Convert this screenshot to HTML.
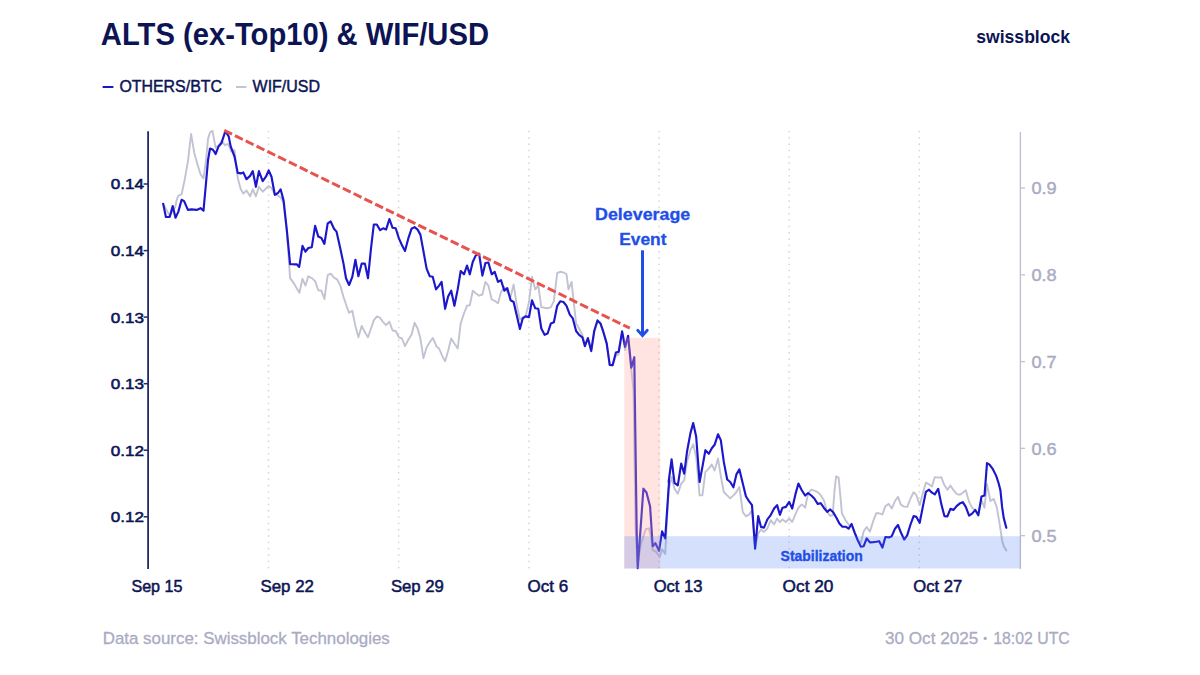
<!DOCTYPE html>
<html><head><meta charset="utf-8"><title>chart</title>
<style>
html,body{margin:0;padding:0;background:#fff;}
body{width:1200px;height:675px;position:relative;overflow:hidden;font-family:"Liberation Sans",sans-serif;}
</style></head><body>
<svg width="1200" height="675" viewBox="0 0 1200 675" font-family="'Liberation Sans', sans-serif" style="position:absolute;left:0;top:0">
<line x1="268.5" y1="131.6" x2="268.5" y2="569" stroke="#d8d8de" stroke-width="1.8" stroke-linecap="round" stroke-dasharray="0 6.319" />
<line x1="398.7" y1="131.6" x2="398.7" y2="569" stroke="#d8d8de" stroke-width="1.8" stroke-linecap="round" stroke-dasharray="0 6.319" />
<line x1="529" y1="131.6" x2="529" y2="569" stroke="#d8d8de" stroke-width="1.8" stroke-linecap="round" stroke-dasharray="0 6.319" />
<line x1="659" y1="131.6" x2="659" y2="569" stroke="#d8d8de" stroke-width="1.8" stroke-linecap="round" stroke-dasharray="0 6.319" />
<line x1="789.2" y1="131.6" x2="789.2" y2="569" stroke="#d8d8de" stroke-width="1.8" stroke-linecap="round" stroke-dasharray="0 6.319" />
<line x1="919.3" y1="131.6" x2="919.3" y2="569" stroke="#d8d8de" stroke-width="1.8" stroke-linecap="round" stroke-dasharray="0 6.319" />
<line x1="148.1" y1="131.3" x2="148.1" y2="569" stroke="#232a68" stroke-width="1.8"/>
<line x1="1020.4" y1="132" x2="1020.4" y2="569" stroke="#bdbfcf" stroke-width="1.3"/>
<line x1="143.6" y1="184.0" x2="148" y2="184.0" stroke="#232a68" stroke-width="1.5"/>
<line x1="143.6" y1="250.6" x2="148" y2="250.6" stroke="#232a68" stroke-width="1.5"/>
<line x1="143.6" y1="317.1" x2="148" y2="317.1" stroke="#232a68" stroke-width="1.5"/>
<line x1="143.6" y1="383.7" x2="148" y2="383.7" stroke="#232a68" stroke-width="1.5"/>
<line x1="143.6" y1="450.2" x2="148" y2="450.2" stroke="#232a68" stroke-width="1.5"/>
<line x1="143.6" y1="516.8" x2="148" y2="516.8" stroke="#232a68" stroke-width="1.5"/>
<line x1="1020.4" y1="188" x2="1025" y2="188" stroke="#bdbfcf" stroke-width="1.2"/>
<line x1="1020.4" y1="274.9" x2="1025" y2="274.9" stroke="#bdbfcf" stroke-width="1.2"/>
<line x1="1020.4" y1="361.6" x2="1025" y2="361.6" stroke="#bdbfcf" stroke-width="1.2"/>
<line x1="1020.4" y1="448.3" x2="1025" y2="448.3" stroke="#bdbfcf" stroke-width="1.2"/>
<line x1="1020.4" y1="535.7" x2="1025" y2="535.7" stroke="#bdbfcf" stroke-width="1.2"/>
<path d="M163.2,203.9 L169.7,215.7 L175.3,206.9 L176.5,200.6 L178.3,195.6 L181.6,194.3 L184.8,179.2 L187.9,161.6 L191.1,133.9 L194.2,152.7 L197.4,164.1 L200.5,174.2 L203.5,178.4 L206.0,160.3 L208.0,138.9 L210.0,132.6 L212.5,130.8 L215.6,147.7 L218.6,145.2 L221.9,141.4 L224.9,145.2 L228.2,143.9 L231.2,151.5 L234.5,150.2 L237.7,177.9 L240.8,189.3 L243.3,193.6 L246.5,190.5 L250.1,196.3 L252.8,189.3 L255.9,196.3 L258.9,186.8 L262.7,191.8 L265.9,188.5 L268.7,186.0 L271.5,188.0 L274.8,194.3 L278.0,195.6 L281.1,198.1 L283.6,203.1 L286.9,232.1 L290.1,278.1 L293.7,283.1 L296.7,288.2 L299.4,292.7 L302.5,278.8 L305.5,285.6 L308.3,276.3 L311.8,278.1 L315.1,281.1 L318.3,290.2 L321.4,290.7 L324.4,299.0 L327.7,275.1 L330.7,273.6 L334.0,277.6 L337.0,279.3 L340.3,285.6 L343.5,297.0 L346.5,305.8 L349.1,312.8 L352.3,310.8 L355.4,325.9 L358.4,337.3 L361.7,325.9 L364.9,332.2 L368.0,337.3 L371.0,328.5 L373.8,320.4 L376.8,316.4 L380.1,317.9 L383.1,322.2 L386.1,325.2 L389.4,321.7 L392.6,330.5 L395.7,331.0 L398.9,337.3 L402.0,338.5 L405.0,346.1 L408.3,339.8 L411.5,334.8 L414.6,322.7 L417.6,328.5 L420.4,338.5 L423.4,358.2 L426.6,347.4 L429.7,342.3 L432.7,338.0 L436.0,344.8 L436.0,346.1 L439.1,348.6 L442.1,355.7 L445.1,361.2 L448.1,351.1 L451.2,338.5 L454.4,343.6 L457.7,348.6 L460.7,323.4 L464.0,313.4 L467.0,305.8 L469.8,305.3 L472.8,290.7 L475.8,293.2 L479.1,295.7 L482.4,294.5 L485.4,281.9 L488.4,285.6 L491.7,299.5 L494.7,300.8 L498.0,303.3 L501.0,291.9 L504.3,286.9 L507.3,291.9 L510.6,297.0 L513.6,284.4 L516.9,305.8 L519.9,319.6 L522.7,317.1 L525.7,315.9 L529.0,302.0 L532.0,276.8 L535.3,289.4 L538.3,285.6 L541.3,307.1 L544.6,307.8 L547.6,308.3 L550.9,307.1 L553.9,300.8 L557.2,273.0 L560.2,271.8 L563.5,272.5 L566.5,274.3 L568.5,289.4 L571.6,281.9 L573.6,300.8 L576.1,323.4 L579.1,328.5 L582.4,334.8 L584.9,344.8 L587.9,338.5 L591.2,350.6 L594.2,332.2 L597.5,320.9 L600.5,323.9 L603.3,332.1 L606.7,343.8 L609.7,364.9 L612.6,365.5 L615.9,356.0 L618.7,354.3 L622.1,332.1 L625.1,350.1 L628.1,336.7 L631.3,370.2 L633.5,390.3 L635.6,529.1 L637.7,563.3 L641.1,543.1 L645.8,529.1 L648.9,528.3 L651.2,538.4 L652.7,550.1 L655.9,551.6 L659.7,557.0 L662.1,549.3 L665.2,553.9 L668.6,490.3 L671.6,476.9 L674.5,488.7 L677.8,493.7 L681.2,483.6 L684.2,480.3 L687.0,461.9 L690.4,450.2 L693.2,444.3 L696.2,456.9 L699.6,495.4 L702.4,495.4 L705.4,471.9 L708.8,468.6 L711.8,464.4 L714.6,470.6 L718.0,458.5 L720.8,476.1 L723.8,492.0 L727.2,495.4 L730.2,498.4 L733.4,495.4 L736.4,492.0 L739.4,487.0 L742.8,512.1 L745.9,516.3 L749.0,514.6 L752.0,510.4 L755.1,546.9 L758.2,533.6 L761.0,529.4 L764.0,531.9 L767.4,528.5 L770.7,520.2 L774.1,524.4 L777.1,518.5 L779.9,522.2 L782.5,519.5 L785.9,522.0 L789.2,518.6 L792.2,522.0 L795.4,514.4 L798.4,507.7 L801.8,504.4 L805.1,507.7 L808.1,493.5 L811.3,489.7 L814.3,490.7 L817.7,492.2 L820.7,495.2 L823.8,500.2 L827.2,511.9 L830.2,515.8 L832.7,515.3 L834.4,491.8 L836.1,476.4 L838.6,477.6 L840.3,495.2 L841.9,513.3 L845.6,520.3 L848.6,524.5 L851.6,525.3 L854.8,533.7 L857.8,540.4 L860.8,542.9 L863.7,531.2 L866.7,527.0 L869.9,531.7 L873.2,521.1 L876.2,513.3 L879.2,513.3 L882.4,514.4 L885.4,506.1 L888.8,503.9 L891.8,508.6 L895.0,501.0 L898.0,496.9 L901.0,504.9 L904.2,506.6 L907.2,506.9 L910.5,498.5 L913.6,492.2 L916.4,495.2 L919.7,505.2 L922.8,493.2 L925.9,482.6 L929.0,484.3 L932.0,486.5 L934.8,477.1 L938.2,477.6 L941.2,477.1 L944.4,485.1 L947.4,489.8 L950.4,485.6 L953.6,490.2 L956.6,493.8 L959.6,494.9 L962.8,492.7 L965.8,490.2 L969.1,501.9 L972.1,507.7 L975.3,510.3 L978.3,513.6 L981.5,500.2 L984.5,507.7 L987.0,484.3 L990.4,501.0 L993.7,498.9 L996.7,506.9 L999.6,523.6 L1002.1,540.4 L1003.8,546.2 L1006.3,550.4" fill="none" stroke="#c2c3d2" stroke-width="1.9" stroke-linejoin="round" stroke-linecap="round"/>
<path d="M163.2,203.9 L165.9,217.0 L169.7,217.0 L172.7,206.1 L175.5,217.7 L178.3,211.9 L181.6,199.8 L184.1,201.1 L187.9,209.9 L191.6,209.4 L196.7,209.9 L200.5,208.2 L203.5,210.7 L206.0,183.0 L208.0,160.3 L210.0,148.5 L213.0,149.7 L215.6,154.0 L218.6,146.4 L221.4,143.2 L224.9,132.6 L226.4,132.6 L228.7,136.4 L230.7,146.4 L234.5,156.5 L237.7,172.9 L240.8,173.4 L243.3,172.4 L246.5,179.2 L250.1,175.9 L252.8,171.1 L255.9,186.8 L258.9,171.1 L262.7,181.2 L265.9,176.7 L268.7,170.4 L271.5,176.7 L274.8,194.8 L278.0,193.0 L280.6,189.3 L283.6,200.6 L286.9,230.8 L290.1,264.1 L293.7,264.3 L296.7,264.3 L299.2,266.9 L302.5,245.9 L305.5,251.7 L308.3,248.0 L311.8,247.2 L315.1,225.8 L318.3,236.6 L321.4,237.9 L324.4,243.9 L327.7,223.3 L330.7,221.5 L334.0,228.8 L336.5,231.6 L340.3,248.5 L343.5,263.6 L346.0,278.2 L349.1,285.0 L352.3,276.9 L355.4,259.8 L358.4,276.2 L361.7,263.6 L364.9,263.6 L368.0,278.2 L371.0,248.5 L373.8,224.5 L376.8,224.5 L380.1,230.1 L383.1,228.3 L386.1,229.6 L389.4,219.0 L392.6,227.8 L395.7,228.3 L398.9,238.4 L402.0,245.2 L405.0,251.0 L408.3,238.4 L411.5,228.8 L414.6,227.1 L417.6,229.6 L420.4,234.6 L423.4,251.0 L426.6,268.6 L429.7,276.2 L432.7,276.7 L436.0,289.3 L436.0,289.4 L439.1,285.6 L441.6,281.9 L445.1,308.8 L448.1,296.5 L451.2,290.7 L454.4,305.8 L457.7,289.4 L460.7,271.0 L464.0,274.3 L467.0,265.5 L469.8,274.3 L472.8,261.7 L475.8,255.4 L479.1,253.7 L482.4,275.6 L485.4,263.0 L488.4,262.5 L491.7,274.3 L494.7,271.8 L498.0,281.9 L501.0,280.1 L504.3,290.7 L507.3,288.2 L510.6,300.3 L513.6,302.0 L516.9,315.9 L519.9,329.0 L522.7,318.4 L525.7,316.4 L529.0,317.1 L532.0,300.3 L535.3,308.3 L538.3,308.8 L541.3,328.5 L544.6,334.8 L547.6,333.5 L550.9,323.4 L553.9,322.2 L557.2,305.8 L560.2,301.3 L563.5,302.0 L566.5,305.8 L569.8,314.6 L572.8,318.4 L576.1,331.0 L579.1,334.8 L582.4,337.3 L584.9,346.1 L587.9,338.0 L591.2,351.1 L594.2,331.0 L597.5,320.4 L600.5,323.4 L603.3,331.7 L606.7,343.4 L609.7,364.9 L612.6,365.2 L615.9,352.6 L618.7,351.8 L622.1,331.4 L625.1,346.8 L628.1,335.9 L631.3,367.7 L634.3,357.2 L636.7,532.2 L637.7,568.2 L641.1,521.3 L643.4,488.7 L646.5,492.5 L650.1,506.5 L652.7,546.2 L655.4,543.1 L659.0,550.8 L662.1,531.4 L665.2,538.4 L669.1,480.9 L668.6,482.0 L671.6,459.4 L674.5,482.8 L677.8,485.3 L681.2,463.6 L684.2,473.6 L687.0,451.8 L690.4,433.4 L693.2,423.1 L696.2,436.8 L699.6,482.0 L702.4,466.9 L705.4,450.2 L708.8,453.8 L711.8,448.2 L714.6,444.8 L718.0,434.3 L720.8,440.1 L723.8,461.9 L727.2,479.5 L730.2,482.0 L733.4,487.3 L736.4,474.4 L739.4,469.4 L742.8,483.6 L745.9,496.2 L749.0,501.2 L752.0,505.1 L755.1,548.6 L758.2,516.0 L761.0,526.9 L764.0,527.7 L767.4,519.3 L770.7,515.1 L774.1,508.5 L777.1,505.1 L779.9,514.8 L782.5,507.7 L785.9,506.9 L789.2,501.9 L792.2,508.6 L795.4,494.4 L798.4,483.5 L801.8,490.2 L805.1,495.5 L808.1,493.2 L811.3,495.5 L814.3,498.5 L817.7,503.9 L820.7,503.2 L823.8,507.7 L827.2,511.9 L830.2,509.4 L833.2,512.3 L836.4,517.8 L839.4,523.6 L842.4,526.7 L845.6,526.7 L848.6,528.7 L851.6,524.0 L854.8,532.8 L857.8,540.4 L860.8,546.6 L863.7,546.2 L866.7,538.4 L869.9,542.4 L873.2,542.1 L876.2,541.7 L879.2,541.2 L882.4,547.6 L885.4,537.0 L888.8,537.4 L891.8,536.2 L895.0,528.7 L898.0,525.0 L901.0,532.8 L904.2,539.5 L907.2,535.4 L910.5,524.5 L913.6,516.1 L916.4,516.9 L919.7,522.8 L922.8,506.9 L925.9,491.8 L929.0,489.7 L932.0,492.7 L934.8,494.4 L938.2,488.8 L941.2,503.6 L944.4,516.1 L947.4,516.4 L950.4,508.9 L953.6,509.9 L956.6,506.1 L959.6,503.6 L962.8,502.2 L965.8,506.9 L969.1,515.6 L972.1,513.6 L975.3,509.9 L978.3,515.3 L981.5,496.5 L984.5,495.5 L987.0,463.1 L989.5,464.7 L992.9,469.2 L996.2,475.9 L998.7,483.5 L1000.4,490.2 L1002.1,506.9 L1003.8,518.3 L1006.3,527.8" fill="none" stroke="#1c17cb" stroke-width="2.15" stroke-linejoin="round" stroke-linecap="round"/>
<rect x="624.3" y="337.8" width="35.9" height="230.7" fill="#ffa59e" fill-opacity="0.3"/>
<rect x="624.3" y="536.2" width="396.2" height="32.3" fill="#4a78f0" fill-opacity="0.23"/>
<line x1="224.2" y1="130.4" x2="629.8" y2="328.2" stroke="#e8524f" stroke-width="3" stroke-dasharray="8.7 3.3"/>
<line x1="642.5" y1="250.3" x2="642.5" y2="334.5" stroke="#1f4fe6" stroke-width="3"/>
<path d="M637.7,330.2 L642.5,335.6 L647.3,330.2" fill="none" stroke="#1f4fe6" stroke-width="2.8" stroke-linecap="round" stroke-linejoin="miter"/>
<text x="100.8" y="44.6" font-size="31" fill="#0c1454" font-weight="bold" textLength="388.2" lengthAdjust="spacingAndGlyphs">ALTS (ex-Top10) &amp; WIF/USD</text>
<text x="976.3" y="43.0" font-size="18.6" fill="#0c1454" font-weight="bold" textLength="93.7" lengthAdjust="spacingAndGlyphs">swissblock</text>
<text x="119.4" y="92.0" font-size="16.3" fill="#0c1454" stroke="#0c1454" stroke-width="0.45" paint-order="stroke" stroke-linejoin="round" textLength="102.6" lengthAdjust="spacingAndGlyphs">OTHERS/BTC</text>
<text x="252.6" y="92.0" font-size="16.3" fill="#0c1454" stroke="#0c1454" stroke-width="0.45" paint-order="stroke" stroke-linejoin="round" textLength="67.4" lengthAdjust="spacingAndGlyphs">WIF/USD</text>
<rect x="102.6" y="86" width="10.8" height="2" fill="#1c17cb"/>
<rect x="236" y="86" width="10.4" height="2" fill="#c3c4d4"/>
<text x="131.4" y="592.4" font-size="16.2" fill="#0c1454" stroke="#0c1454" stroke-width="0.5" paint-order="stroke" stroke-linejoin="round" textLength="51.1" lengthAdjust="spacingAndGlyphs">Sep 15</text>
<text x="260.5" y="592.4" font-size="16.2" fill="#0c1454" stroke="#0c1454" stroke-width="0.5" paint-order="stroke" stroke-linejoin="round" textLength="53.4" lengthAdjust="spacingAndGlyphs">Sep 22</text>
<text x="390.9" y="592.4" font-size="16.2" fill="#0c1454" stroke="#0c1454" stroke-width="0.5" paint-order="stroke" stroke-linejoin="round" textLength="53.0" lengthAdjust="spacingAndGlyphs">Sep 29</text>
<text x="527.5" y="592.4" font-size="16.2" fill="#0c1454" stroke="#0c1454" stroke-width="0.5" paint-order="stroke" stroke-linejoin="round" textLength="40.6" lengthAdjust="spacingAndGlyphs">Oct 6</text>
<text x="653.7" y="592.4" font-size="16.2" fill="#0c1454" stroke="#0c1454" stroke-width="0.5" paint-order="stroke" stroke-linejoin="round" textLength="48.8" lengthAdjust="spacingAndGlyphs">Oct 13</text>
<text x="782.6" y="592.4" font-size="16.2" fill="#0c1454" stroke="#0c1454" stroke-width="0.5" paint-order="stroke" stroke-linejoin="round" textLength="50.8" lengthAdjust="spacingAndGlyphs">Oct 20</text>
<text x="913.3" y="592.4" font-size="16.2" fill="#0c1454" stroke="#0c1454" stroke-width="0.5" paint-order="stroke" stroke-linejoin="round" textLength="49.0" lengthAdjust="spacingAndGlyphs">Oct 27</text>
<text x="110.7" y="189.4" font-size="15.0" fill="#0c1454" stroke="#0c1454" stroke-width="0.55" paint-order="stroke" stroke-linejoin="round" textLength="33.3" lengthAdjust="spacingAndGlyphs">0.14</text>
<text x="110.7" y="256.0" font-size="15.0" fill="#0c1454" stroke="#0c1454" stroke-width="0.55" paint-order="stroke" stroke-linejoin="round" textLength="33.3" lengthAdjust="spacingAndGlyphs">0.14</text>
<text x="110.7" y="322.5" font-size="15.0" fill="#0c1454" stroke="#0c1454" stroke-width="0.55" paint-order="stroke" stroke-linejoin="round" textLength="33.3" lengthAdjust="spacingAndGlyphs">0.13</text>
<text x="110.7" y="389.1" font-size="15.0" fill="#0c1454" stroke="#0c1454" stroke-width="0.55" paint-order="stroke" stroke-linejoin="round" textLength="33.3" lengthAdjust="spacingAndGlyphs">0.13</text>
<text x="110.7" y="455.6" font-size="15.0" fill="#0c1454" stroke="#0c1454" stroke-width="0.55" paint-order="stroke" stroke-linejoin="round" textLength="33.3" lengthAdjust="spacingAndGlyphs">0.12</text>
<text x="110.7" y="522.2" font-size="15.0" fill="#0c1454" stroke="#0c1454" stroke-width="0.55" paint-order="stroke" stroke-linejoin="round" textLength="33.3" lengthAdjust="spacingAndGlyphs">0.12</text>
<text x="1031.5" y="194.2" font-size="16.2" fill="#a9abc2" stroke="#a9abc2" stroke-width="0.4" paint-order="stroke" stroke-linejoin="round" textLength="25.2" lengthAdjust="spacingAndGlyphs">0.9</text>
<text x="1031.5" y="281.1" font-size="16.2" fill="#a9abc2" stroke="#a9abc2" stroke-width="0.4" paint-order="stroke" stroke-linejoin="round" textLength="25.2" lengthAdjust="spacingAndGlyphs">0.8</text>
<text x="1031.5" y="367.8" font-size="16.2" fill="#a9abc2" stroke="#a9abc2" stroke-width="0.4" paint-order="stroke" stroke-linejoin="round" textLength="25.2" lengthAdjust="spacingAndGlyphs">0.7</text>
<text x="1031.5" y="454.5" font-size="16.2" fill="#a9abc2" stroke="#a9abc2" stroke-width="0.4" paint-order="stroke" stroke-linejoin="round" textLength="25.2" lengthAdjust="spacingAndGlyphs">0.6</text>
<text x="1031.5" y="541.9" font-size="16.2" fill="#a9abc2" stroke="#a9abc2" stroke-width="0.4" paint-order="stroke" stroke-linejoin="round" textLength="25.2" lengthAdjust="spacingAndGlyphs">0.5</text>
<text x="102.7" y="643.6" font-size="17.2" fill="#a9abc2" stroke="#a9abc2" stroke-width="0.3" paint-order="stroke" stroke-linejoin="round" textLength="287.1" lengthAdjust="spacingAndGlyphs">Data source: Swissblock Technologies</text>
<text x="885.0" y="644.2" font-size="16.9" fill="#a9abc2" stroke="#a9abc2" stroke-width="0.3" paint-order="stroke" stroke-linejoin="round" textLength="93.3" lengthAdjust="spacingAndGlyphs">30 Oct 2025</text>
<circle cx="985.2" cy="638.4" r="1.7" fill="#a9abc2"/>
<text x="993.2" y="644.2" font-size="16.9" fill="#a9abc2" stroke="#a9abc2" stroke-width="0.3" paint-order="stroke" stroke-linejoin="round" textLength="76.6" lengthAdjust="spacingAndGlyphs">18:02 UTC</text>
<text x="595.0" y="220.1" font-size="16.2" fill="#1f4fe6" font-weight="bold" stroke="#1f4fe6" stroke-width="0.3" paint-order="stroke" stroke-linejoin="round" textLength="95.3" lengthAdjust="spacingAndGlyphs">Deleverage</text>
<text x="619.2" y="245.0" font-size="16.2" fill="#1f4fe6" font-weight="bold" stroke="#1f4fe6" stroke-width="0.3" paint-order="stroke" stroke-linejoin="round" textLength="47.3" lengthAdjust="spacingAndGlyphs">Event</text>
<text x="780.6" y="560.6" font-size="14.3" fill="#1f4fe6" font-weight="bold" stroke="#1f4fe6" stroke-width="0.35" paint-order="stroke" stroke-linejoin="round" textLength="82.1" lengthAdjust="spacingAndGlyphs">Stabilization</text>
</svg>
</body></html>
